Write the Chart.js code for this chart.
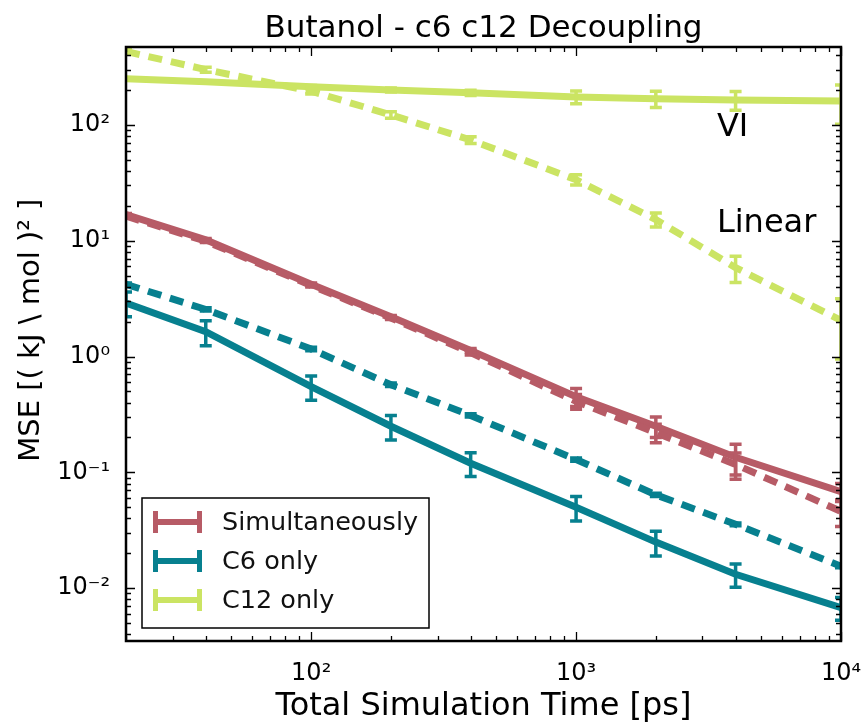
<!DOCTYPE html>
<html><head><meta charset="utf-8">
<script src="https://cdn.jsdelivr.net/npm/chart.js@4.4.1/dist/chart.umd.min.js"></script>
<style>html,body{margin:0;padding:0;background:#fff}#wrap{width:864px;height:726px}</style>
</head><body><div id="wrap"><canvas id="c" width="864" height="726"></canvas></div>
<script>
// ---- data ----
const times = [20, 40, 100, 200, 400, 1000, 2000, 4000, 10000];

const simVI      = [16.8, 10.2, 4.2, 2.2, 1.13, 0.45, 0.25, 0.135, 0.068];
const simVIErr   = [0.4, 0.25, 0.12, 0.06, 0.04, 0.08, 0.05, 0.04, 0.012];
const simLin     = [16.3, 9.9, 4.1, 2.15, 1.08, 0.41, 0.22, 0.117, 0.046];
const simLinErr  = [0.4, 0.25, 0.12, 0.06, 0.05, 0.06, 0.04, 0.03, 0.012];

const c6VI       = [2.9, 1.64, 0.55, 0.25, 0.12, 0.05, 0.025, 0.0132, 0.0068];
const c6VIErr    = [0.7, 0.4, 0.13, 0.06, 0.028, 0.012, 0.006, 0.003, 0.0015];
const c6Lin      = [4.2, 2.55, 1.16, 0.57, 0.31, 0.129, 0.064, 0.0356, 0.0155];
const c6LinErr   = [0.12, 0.08, 0.04, 0.02, 0.01, 0.004, 0.002, 0.001, 0.0005];

const c12VI      = [250, 235, 213, 200, 189, 174, 168, 164, 161];
const c12VIErr   = [5, 5, 6, 8, 10, 22, 27, 30, 60];
const c12Lin     = [430, 300, 195, 122, 74, 33.6, 15.2, 5.85, 2.05];
const c12LinErr  = [20, 15, 10, 8, 5, 3.4, 2.1, 1.5, 1.1];

const seriesNames = ['Simultaneously', 'C6 only', 'C12 only'];
const xTickValues = [100, 1000, 10000];
const yTickValues = [0.01, 0.1, 1, 10, 100];
const methodLabels = ['VI', 'Linear'];

const RED = '#b75b66', TEAL = '#07808f', LIME = '#cbe463';
const FONT = "'DejaVu Sans', sans-serif";

function pts(xs, ys) { return xs.map((x, i) => ({x: x, y: ys[i]})); }
function ds(label, ys, errs, color, dashed) {
  return {
    label: label, data: pts(times, ys), errors: errs,
    borderColor: color, backgroundColor: color, borderWidth: 7,
    borderDash: dashed ? [14, 9] : [], pointRadius: 0, tension: 0,
    order: dashed ? 1 : 2, fill: false, borderCapStyle: 'butt'
  };
}

const supMap = {'0':'⁰','1':'¹','2':'²','3':'³','4':'⁴','5':'⁵','6':'⁶','7':'⁷','8':'⁸','9':'⁹','-':'⁻'};
function powLabel(v) {
  const e = Math.round(Math.log10(v));
  return '10' + String(e).split('').map(c => supMap[c]).join('');
}

const titleOverAxes = {
  id: 'titleOverAxes',
  afterLayout(chart) {
    const t = chart.titleBlock, a = chart.chartArea;
    if (t) { t.left = a.left; t.right = a.right; t.width = a.right - a.left; }
  }
};

const errorBars = {
  id: 'errorBars',
  afterDatasetsDraw(chart) {
    const {ctx, chartArea: a, scales: {x, y}} = chart;
    ctx.save();
    ctx.beginPath(); ctx.rect(a.left, a.top, a.right - a.left, a.bottom - a.top); ctx.clip();
    chart.data.datasets.forEach(d => {
      ctx.strokeStyle = d.borderColor; ctx.lineWidth = 3.5; ctx.setLineDash([]);
      d.data.forEach((p, i) => {
        const e = d.errors[i];
        const px = x.getPixelForValue(p.x);
        const yt = y.getPixelForValue(p.y + e);
        const yb = y.getPixelForValue(Math.max(p.y - e, p.y * 0.05));
        ctx.beginPath();
        ctx.moveTo(px, yt); ctx.lineTo(px, yb);
        ctx.moveTo(px - 6, yt); ctx.lineTo(px + 6, yt);
        ctx.moveTo(px - 6, yb); ctx.lineTo(px + 6, yb);
        ctx.stroke();
      });
    });
    ctx.restore();
  }
};

const frameAndTicks = {
  id: 'frameAndTicks',
  afterDraw(chart) {
    const {ctx, chartArea: a, scales: {x, y}} = chart;
    ctx.save();
    ctx.strokeStyle = '#000'; ctx.lineWidth = 1.3; ctx.setLineDash([]);
    function minorVals(sc) {
      const out = [];
      for (let d = Math.floor(Math.log10(sc.min)); d <= Math.ceil(Math.log10(sc.max)); d++) {
        for (let k = 1; k <= 9; k++) {
          const v = k * Math.pow(10, d);
          if (v >= sc.min * 0.999 && v <= sc.max * 1.001) out.push({v: v, major: k === 1});
        }
      }
      return out;
    }
    minorVals(x).forEach(t => {
      const px = Math.round(x.getPixelForValue(t.v)) + 0.5, L = t.major ? 9 : 5;
      ctx.beginPath();
      ctx.moveTo(px, a.bottom); ctx.lineTo(px, a.bottom - L);
      ctx.moveTo(px, a.top); ctx.lineTo(px, a.top + L);
      ctx.stroke();
    });
    minorVals(y).forEach(t => {
      const py = Math.round(y.getPixelForValue(t.v)) + 0.5, L = t.major ? 9 : 5;
      ctx.beginPath();
      ctx.moveTo(a.left, py); ctx.lineTo(a.left + L, py);
      ctx.moveTo(a.right, py); ctx.lineTo(a.right - L, py);
      ctx.stroke();
    });
    ctx.lineWidth = 2.5;
    ctx.strokeRect(a.left, a.top, a.right - a.left, a.bottom - a.top);

    // method annotations
    ctx.fillStyle = '#000'; ctx.font = '32px ' + FONT;
    ctx.textAlign = 'left'; ctx.textBaseline = 'alphabetic';
    ctx.fillText(methodLabels[0], x.getPixelForValue(3400), y.getPixelForValue(80));
    ctx.fillText(methodLabels[1], x.getPixelForValue(3400), y.getPixelForValue(12));

    // legend
    const colors = [RED, TEAL, LIME];
    const bx = a.left + 16, by = a.bottom - 143, bw = 287, bh = 130;
    ctx.fillStyle = '#fff'; ctx.fillRect(bx, by, bw, bh);
    ctx.lineWidth = 1.5; ctx.strokeStyle = '#000'; ctx.strokeRect(bx, by, bw, bh);
    seriesNames.forEach((name, i) => {
      const cy = by + 24 + i * 39;
      ctx.strokeStyle = colors[i];
      ctx.lineWidth = 6;
      ctx.beginPath(); ctx.moveTo(bx + 12, cy); ctx.lineTo(bx + 59, cy); ctx.stroke();
      ctx.lineWidth = 5;
      ctx.beginPath();
      ctx.moveTo(bx + 13.5, cy - 11); ctx.lineTo(bx + 13.5, cy + 11);
      ctx.moveTo(bx + 57.5, cy - 11); ctx.lineTo(bx + 57.5, cy + 11);
      ctx.stroke();
      ctx.fillStyle = '#111'; ctx.font = '25.5px ' + FONT;
      ctx.textAlign = 'left'; ctx.textBaseline = 'middle';
      ctx.fillText(name, bx + 80, cy + 1);
    });
    ctx.restore();
  }
};

new Chart(document.getElementById('c'), {
  type: 'line',
  data: {
    datasets: [
      ds('Simultaneously', simVI, simVIErr, RED, false),
      ds('C6 only', c6VI, c6VIErr, TEAL, false),
      ds('C12 only', c12VI, c12VIErr, LIME, false),
      ds('Simultaneously (Linear)', simLin, simLinErr, RED, true),
      ds('C6 only (Linear)', c6Lin, c6LinErr, TEAL, true),
      ds('C12 only (Linear)', c12Lin, c12LinErr, LIME, true)
    ]
  },
  options: {
    responsive: false, animation: false, devicePixelRatio: 1,
    layout: {padding: {left: 0, right: 23, top: 0, bottom: 0}},
    plugins: {
      legend: {display: false}, tooltip: {enabled: false},
      title: {display: true, text: 'Butanol - c6 c12 Decoupling', color: '#000',
        font: {family: FONT, size: 31, weight: 'normal', lineHeight: 1.1}, padding: {top: 11.5, bottom: 1.4}}
    },
    scales: {
      x: {
        type: 'logarithmic', position: 'bottom', min: 20, max: 10000,
        grid: {display: false}, border: {display: false},
        afterBuildTicks: s => { s.ticks = xTickValues.map(v => ({value: v})); },
        afterFit: s => { s.height = 85; s.paddingLeft = 0; s.paddingRight = 0; },
        ticks: {autoSkip: false, maxRotation: 0, padding: 10, color: '#000',
          font: {family: FONT, size: 24}, callback: v => powLabel(v)},
        title: {display: true, text: 'Total Simulation Time [ps]', color: '#000',
          font: {family: FONT, size: 32}, padding: {top: 0, bottom: 0}}
      },
      y: {
        type: 'logarithmic', position: 'left', min: 0.0035, max: 470,
        grid: {display: false}, border: {display: false},
        afterBuildTicks: s => { s.ticks = yTickValues.map(v => ({value: v})); },
        afterFit: s => { s.width = 126; s.paddingTop = 0; s.paddingBottom = 0; },
        ticks: {autoSkip: false, padding: 8, color: '#000',
          font: {family: FONT, size: 24}, callback: v => powLabel(v)},
        title: {display: true, text: '   MSE [( kJ \\ mol )² ]', color: '#000',
          font: {family: FONT, size: 29}, padding: {top: 14, bottom: 0}}
      }
    }
  },
  plugins: [titleOverAxes, errorBars, frameAndTicks]
});
</script>
</body></html>
